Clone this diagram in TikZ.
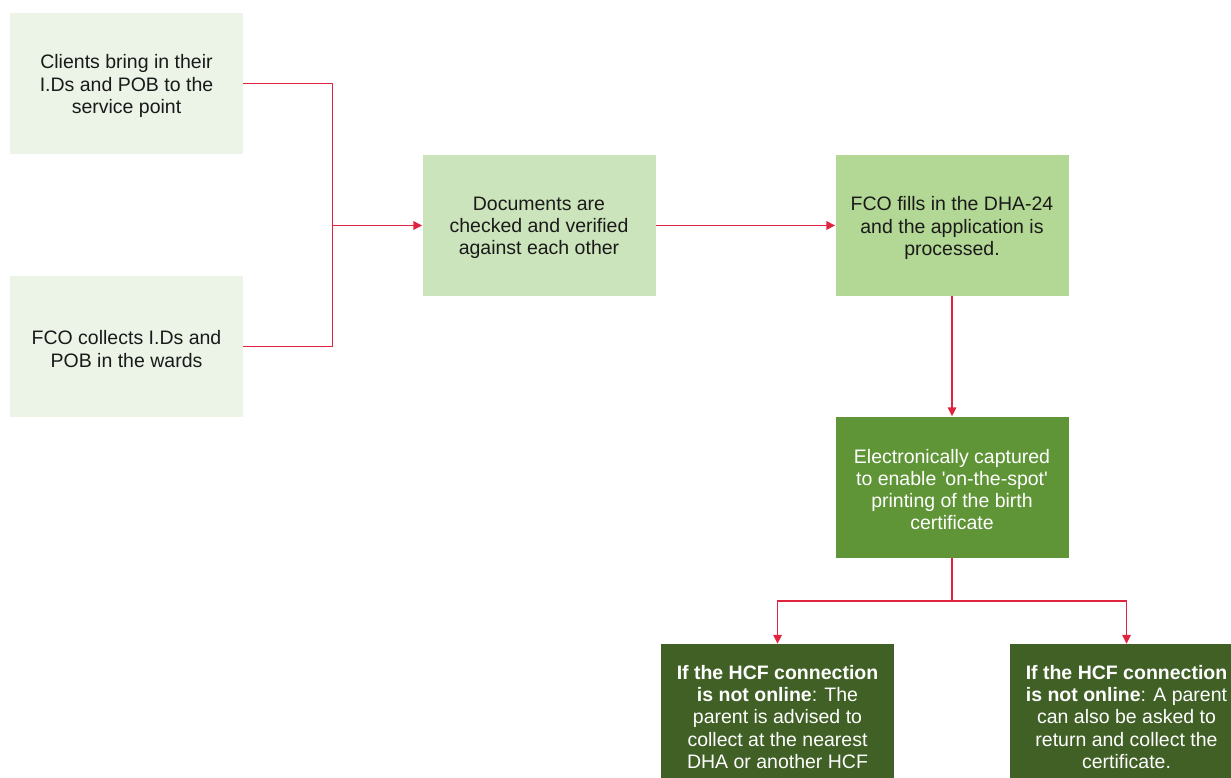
\documentclass[tikz,border=0pt]{standalone}
\usepackage{fontspec}
\setmainfont{Liberation Sans}
\usetikzlibrary{arrows.meta}

\definecolor{paleGreen}{HTML}{EBF4E6}
\definecolor{softGreen}{HTML}{CCE4BB}
\definecolor{midGreen}{HTML}{B3D794}
\definecolor{leafGreen}{HTML}{5F9537}
\definecolor{darkGreen}{HTML}{406026}
\definecolor{flowRed}{HTML}{E0243F}
\definecolor{inkBlack}{HTML}{1A1A1A}

\tikzset{
  stepbox/.style={rectangle, minimum width=233pt, minimum height=141pt,
    inner sep=0pt},
  steptext/.style={align=center, inner sep=0pt, text=inkBlack, yshift=-2.5pt,
    font=\fontsize{19.5}{22.2}\selectfont},
  lighttext/.style={steptext, text=white},
  flow/.style={draw=flowRed, line width=1.6pt},
  flowarrow/.style={flow, -{Triangle[length=9pt,width=8.5pt]}},
}

\begin{document}
\begin{tikzpicture}[x=1pt, y=-1pt]
  \useasboundingbox (0,0) rectangle (1231,778);
  \clip (0,0) rectangle (1231,778);

  % input boxes
  \node[stepbox, fill=paleGreen, label={[steptext]center:
    Clients bring in their\\I.Ds and POB to the\\service point}]
    (clients) at (126.5,83.5) {};
  \node[stepbox, fill=paleGreen, label={[steptext]center:
    FCO collects I.Ds and\\POB in the wards}]
    (wards) at (126.5,346.5) {};

  % main processing chain
  \node[stepbox, fill=softGreen, label={[steptext]center:
    Documents are\\checked and verified\\against each other}]
    (verify) at (539,225.5) {};
  \node[stepbox, fill=midGreen, label={[steptext]center:
    FCO fills in the DHA-24\\and the application is\\processed.}]
    (fill) at (952,225.5) {};
  \node[stepbox, fill=leafGreen, label={[lighttext]center:
    Electronically captured\\to enable \textquotesingle on-the-spot\textquotesingle\\printing of the birth\\certificate}]
    (capture) at (952,487) {};

  % offline outcomes
  \node[stepbox, fill=darkGreen, label={[lighttext]center:
    \textbf{If the HCF connection}\\\textbf{is not online}: The\\parent is advised to\\collect at the nearest\\DHA or another HCF}]
    (nearest) at (777.5,714.5) {};
  \node[stepbox, fill=darkGreen, label={[lighttext]center:
    \textbf{If the HCF connection}\\\textbf{is not online}: A parent\\can also be asked to\\return and collect the\\certificate.}]
    (return) at (1126.5,714.5) {};

  % junction points
  \coordinate (merge) at (332.5,225.5);
  \coordinate (split) at (952,601);

  % connectors
  \draw[flow] (clients.east) -| (merge);
  \draw[flow] (wards.east) -| (merge);
  \draw[flowarrow] (merge) -- (verify.west);
  \draw[flowarrow] (verify.east) -- (fill.west);
  \draw[flowarrow] (fill.south) -- (capture.north);
  \draw[flow] (capture.south) -- (split);
  \draw[flowarrow] (split) -| (nearest.north);
  \draw[flowarrow] (split) -| (return.north);
\end{tikzpicture}
\end{document}
